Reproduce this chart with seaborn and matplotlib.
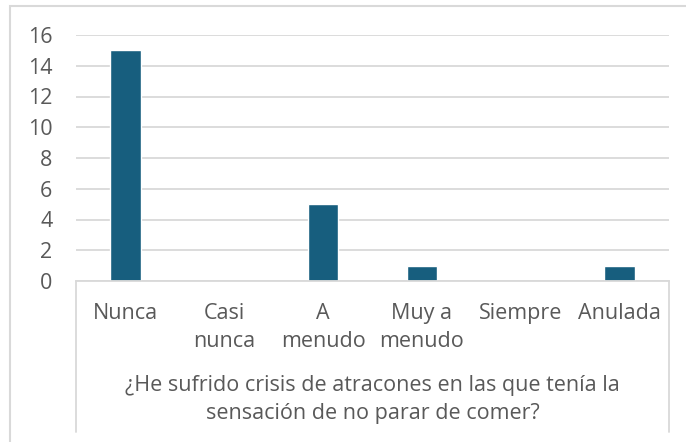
import matplotlib
matplotlib.use('agg')
import matplotlib.pyplot as plt
import matplotlib.patches as mpatches
from matplotlib.lines import Line2D
import pandas as pd
import seaborn as sns

categorias = ['Nunca', 'Casi\nnunca', 'A\nmenudo', 'Muy a\nmenudo', 'Siempre', 'Anulada']
valores = [15, 0, 5, 1, 0, 1]
titulo_x = '¿He sufrido crisis de atracones en las que tenía la\nsensación de no parar de comer?'

gris = '#595959'
linea = '#D9D9D9'
fs = 15.5

sns.set_theme(style='white')
plt.rcParams['font.family'] = ['Open Sans', 'DejaVu Sans']

W, H = 686, 442
fig = plt.figure(figsize=(W / 100, H / 100), dpi=100)
ax = fig.add_axes([76 / W, 1 - 281 / H, (669 - 76) / W, (281 - 35) / H])

datos = pd.DataFrame({'cat': categorias, 'val': valores})
sns.barplot(data=datos, x='cat', y='val', color='#175E7E', saturation=1,
            width=0.31, ax=ax)

ax.set_ylim(0, 16)
ax.set_xlim(-0.5, len(categorias) - 0.5)
ax.set_yticks(range(0, 17, 2))
ax.yaxis.grid(True, color=linea, linewidth=1.3)
ax.set_axisbelow(True)
for s in ['top', 'right', 'left']:
    ax.spines[s].set_visible(False)
ax.spines['bottom'].set_color(linea)
ax.spines['bottom'].set_linewidth(1.3)
ax.tick_params(axis='y', length=0, labelsize=fs, labelcolor=gris, pad=17)
ax.tick_params(axis='x', length=0, labelsize=fs, labelcolor=gris, pad=16)
ax.set_xticks(range(len(categorias)))
ax.set_xticklabels(categorias, linespacing=1.4, va='top')
ax.set_ylabel('')
ax.set_xlabel(titulo_x, fontsize=fs, color=gris, labelpad=17, linespacing=1.4)

# caja bajo el eje (estilo tabla de Excel)
yb = -(432 - 281) / (281 - 35)
for xv in (0, 1):
    ax.add_line(Line2D([xv, xv], [0, yb], transform=ax.transAxes,
                       color=linea, linewidth=1.3, clip_on=False))

# borde exterior del gráfico
fig.patches.append(mpatches.Rectangle((10 / W, -0.05), 1.1, 1 - 6 / H + 0.05,
                                      transform=fig.transFigure, fill=False,
                                      edgecolor=linea, linewidth=1.5))

fig.savefig('out.png', dpi=100)
